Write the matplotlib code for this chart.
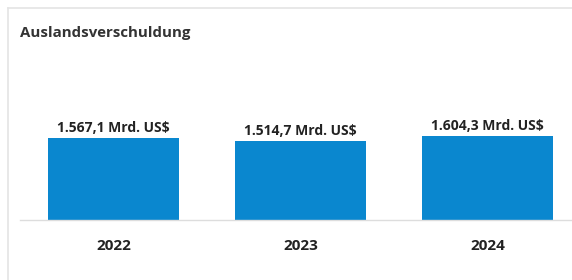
import matplotlib.pyplot as plt
from matplotlib.lines import Line2D
import numpy as np

plt.rcParams['font.family'] = ['Open Sans', 'DejaVu Sans']

# data
years = ['2022', '2023', '2024']
debt = [1567.1, 1514.7, 1604.3]  # Mrd. US$
labels = ['1.567,1 Mrd. US$', '1.514,7 Mrd. US$', '1.604,3 Mrd. US$']

W, H = 572, 280
fig = plt.figure(figsize=(W / 100, H / 100), dpi=100)
fig.patch.set_facecolor('white')

# card border (top + left)
border = '#e4e4e4'
fig.add_artist(Line2D([8 / W, 1], [1 - 8 / H, 1 - 8 / H], color=border, lw=1.2))
fig.add_artist(Line2D([8 / W, 8 / W], [0, 1 - 8 / H], color=border, lw=1.2))

fig.text(20 / W, 1 - 33 / H, 'Auslandsverschuldung', fontsize=10.8, fontweight='bold',
         color='#333333', va='center', ha='left')

ax = fig.add_axes([20 / W, 1 - 220 / H, 1 - 20 / W, 170 / H])
x = np.arange(len(years))
ax.bar(x, debt, width=0.70, color='#0a87cf')
for xi, v, lab in zip(x, debt, labels):
    ax.text(xi, v + 55, lab, ha='center', va='bottom', fontsize=10, fontweight='bold', color='#222222')

ax.set_xlim(-0.5, (W - 113.5) / 187)
ax.set_ylim(0, 1604.3 * 170 / 84)
ax.set_xticks(x)
ax.set_xticklabels(years, fontsize=11, fontweight='bold', color='#222222')
ax.tick_params(axis='x', length=0, pad=14)
ax.set_yticks([])
for s in ['top', 'right', 'left']:
    ax.spines[s].set_visible(False)
ax.spines['bottom'].set_color('#dddddd')
ax.spines['bottom'].set_linewidth(1)

fig.savefig('out.png', dpi=100)
